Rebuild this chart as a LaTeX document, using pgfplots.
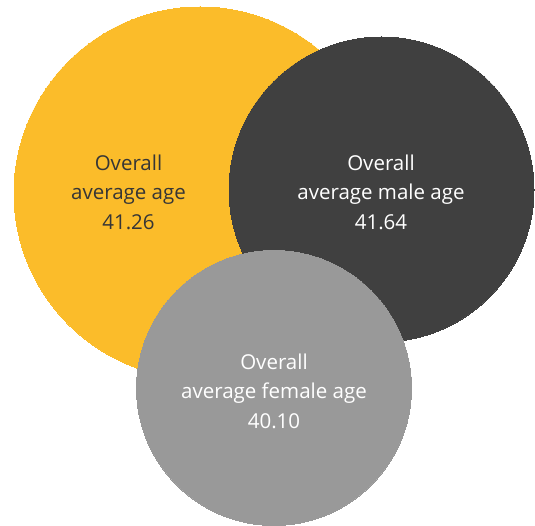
\documentclass[border=0pt]{standalone}
\usepackage{pgfplots}
\pgfplotsset{compat=1.18}
\usepackage{pgfplotstable}
\usepackage{fontspec}
\setmainfont{Open Sans}

\definecolor{ageyellow}{HTML}{FBBC2A}
\definecolor{agedark}{HTML}{404040}
\definecolor{agegray}{HTML}{999999}
\definecolor{agetext}{HTML}{363636}

% circle centres and radii, in pixels of the original (y downwards)
\pgfplotstableread{
x   y   r
200 193 186
}\overall
\pgfplotstableread{
x     y     r
381.5 189.5 152.5
}\male
\pgfplotstableread{
x   y   r
274 388 137.5
}\female

\pgfplotsset{
  bubble/.style={
    scatter, only marks, mark=*, color=#1,
    visualization depends on={\thisrow{r} \as \rad},
    scatter/@pre marker code/.code={\scope[mark size=\rad, fill=#1, draw=#1, line width=0pt]},
    scatter/@post marker code/.code={\endscope},
  },
}
\tikzset{agelabel/.style={align=center, font=\fontsize{20.5}{29.5}\selectfont}}

\begin{document}
\begin{tikzpicture}
  \begin{axis}[
      set layers,
      x=1pt, y=1pt,
      xmin=0, xmax=535,
      ymin=0, ymax=526,
      y dir=reverse,
      hide axis,
      clip=false,
    ]
    \addplot[bubble=ageyellow] table {\overall};
    \addplot[bubble=agedark] table {\male};
    \addplot[bubble=agegray] table {\female};

    \begin{pgfonlayer}{axis foreground}
      \node[agelabel, text=agetext] at (axis cs:128.5,192) {Overall\\average age\\41.26};
      \node[agelabel, text=white] at (axis cs:381,192) {Overall\\average male age\\41.64};
      \node[agelabel, text=white] at (axis cs:274,391) {Overall\\average female age\\40.10};
    \end{pgfonlayer}

    \path (axis cs:0,0) rectangle (axis cs:535,526);
  \end{axis}
\end{tikzpicture}
\end{document}
